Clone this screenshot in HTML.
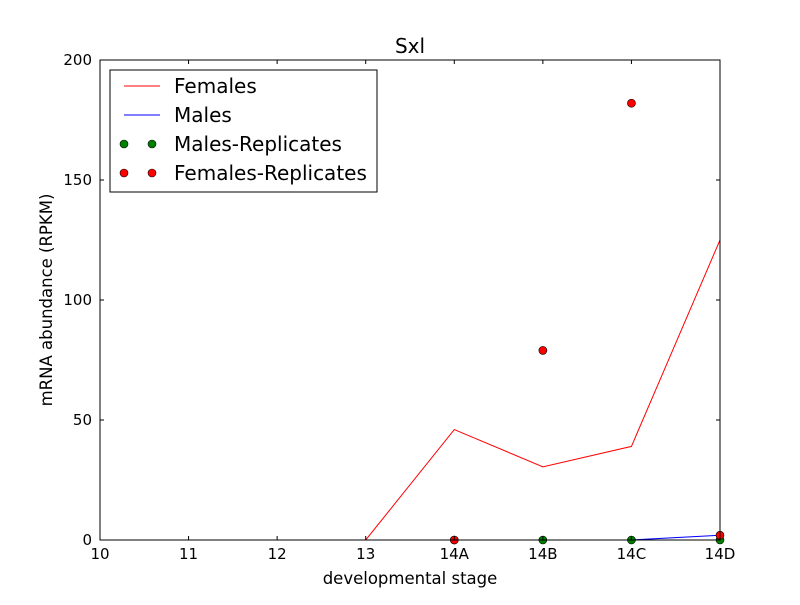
<!DOCTYPE html>
<html><head><meta charset="utf-8"><style>
html,body{margin:0;padding:0;background:#fff;}
svg text{font-family:"DejaVu Sans","Liberation Sans",sans-serif;}
</style></head><body>
<svg id="chart" width="800" height="600" xmlns="http://www.w3.org/2000/svg">
<rect width="800" height="600" fill="#fff"/>
<g id="plot"></g>
</svg>
<script>
const categories=["10","11","12","13","14A","14B","14C","14D"];
const femalesMean=[0,0,0,0,46,30.5,39,125];
const malesMean=[0,0,0,0,0,0,0,2];
const maleRepX=["14A","14B","14C","14D"];
const maleRepY=[0,0,0,0];
const femaleRepX=["14A","14B","14C","14D"];
const femaleRepY=[0,79,182,2];
const yTicks=[0,50,100,150,200];

const L=100,R=720,T=60,B=540,yMax=200;
const xs=c=>L+categories.indexOf(c)*(R-L)/(categories.length-1);
const ys=v=>B-v/yMax*(B-T);
const NS="http://www.w3.org/2000/svg";
const svg=document.getElementById('chart');
function el(tag,attrs,parent){const e=document.createElementNS(NS,tag);for(const k in attrs)e.setAttribute(k,attrs[k]);(parent||svg).appendChild(e);return e;}

const clip=el('clipPath',{id:'cp'});el('rect',{x:L,y:T,width:R-L,height:B-T},clip);

function line(vals,color,name){
  const p=el('polyline',{points:vals.map((v,i)=>xs(categories[i])+','+ys(v)).join(' '),fill:'none',stroke:color,'stroke-width':1,'clip-path':'url(#cp)'});
  
  
}
line(femalesMean,'#ff0000','females-line');
line(malesMean,'#0000ff','males-line');
function pts(xsArr,ysArr,color,name){
  xsArr.forEach((c,i)=>{
    const d=el('circle',{cx:xs(c),cy:ys(ysArr[i]),r:4,fill:color,stroke:'#000','stroke-width':0.6});
    
    
  });
}
pts(maleRepX,maleRepY,'#007f00','male-replicate-point');
pts(femaleRepX,femaleRepY,'#ff0000','female-replicate-point');

const frame=el('rect',{x:L,y:T,width:R-L,height:B-T,fill:'none',stroke:'#000','stroke-width':1});



categories.forEach(c=>{
  const x=xs(c);
  el('line',{x1:x,y1:B,x2:x,y2:B-4,stroke:'#000'});
  el('line',{x1:x,y1:T,x2:x,y2:T+4,stroke:'#000'});
  const t=el('text',{x:x,y:B+19,'text-anchor':'middle','font-size':15});t.textContent=c;
  
  
});
yTicks.forEach(v=>{
  const y=ys(v);
  el('line',{x1:L,y1:y,x2:L+4,y2:y,stroke:'#000'});
  el('line',{x1:R,y1:y,x2:R-4,y2:y,stroke:'#000'});
  const t=el('text',{x:L-8,y:y+5,'text-anchor':'end','font-size':15});t.textContent=v;
  
  
});
const title=el('text',{x:410,y:53,'text-anchor':'middle','font-size':20});title.textContent='Sxl';


const xt=el('text',{x:410,y:584,'text-anchor':'middle','font-size':16.5});xt.textContent='developmental stage';


const yt=el('text',{x:0,y:0,'text-anchor':'middle','font-size':16.5,transform:'translate(52,300) rotate(-90)'});yt.textContent='mRNA abundance (RPKM)';



const lg=el('g',{});


el('rect',{x:110,y:70,width:267,height:122,fill:'#fff',stroke:'#000'},lg);
const entries=[['Females','line','#ff0000'],['Males','line','#0000ff'],['Males-Replicates','pt','#007f00'],['Females-Replicates','pt','#ff0000']];
entries.forEach((e,i)=>{
  const y=86+i*29;
  if(e[1]==='line')el('line',{x1:124,y1:y,x2:160,y2:y,stroke:e[2]},lg);
  else{el('circle',{cx:124,cy:y,r:4,fill:e[2],stroke:'#000','stroke-width':0.6},lg);el('circle',{cx:152,cy:y,r:4,fill:e[2],stroke:'#000','stroke-width':0.6},lg);}
  const t=el('text',{x:174,y:y+7,'font-size':20},lg);t.textContent=e[0];
  
  
});
</script>
</body></html>
